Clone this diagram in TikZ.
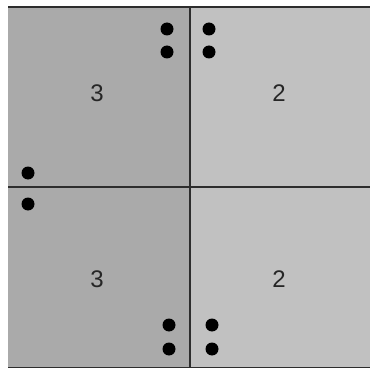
\documentclass[tikz,border=0pt]{standalone}
\usepackage{fontspec}
\setmainfont{Liberation Sans}
\definecolor{darkcell}{RGB}{170,170,170}
\definecolor{lightcell}{RGB}{193,193,193}
\definecolor{gridline}{RGB}{45,45,45}
\begin{document}
\begin{tikzpicture}[
    x=1pt, y=-1pt,
    cell/.style={fill=#1, draw=none},
    divider/.style={draw=gridline, line width=1.6pt},
    dot/.style={circle, fill=black, inner sep=0pt, minimum size=13pt},
    count/.style={font=\fontsize{24}{28}\selectfont, text=black!85}
  ]
    \useasboundingbox (0,0) rectangle (370,369);

    % Cells
    \path[cell=darkcell] (8,7) rectangle (190,368);
    \path[cell=lightcell] (190,7) rectangle (370,368);

    % Grid
    \draw[divider] (8,7) -- (370,7);
    \draw[divider] (8,367.5) -- (370,367.5);
    \draw[divider] (190,7) -- (190,368);
    \draw[divider] (8,187) -- (370,187);

    % Labels
    \node[count] (tl) at (97,93) {3};
    \node[count] (tr) at (279,93) {2};
    \node[count] (bl) at (97,279) {3};
    \node[count] (br) at (279,279) {2};

    % Dots
    \node[dot] (d1) at (167,29) {};
    \node[dot] (d2) at (167,52) {};
    \node[dot] (d3) at (209,29) {};
    \node[dot] (d4) at (209,52) {};
    \node[dot] (d5) at (28,173) {};
    \node[dot] (d6) at (28,204) {};
    \node[dot] (d7) at (169,325) {};
    \node[dot] (d8) at (169,349) {};
    \node[dot] (d9) at (212,325) {};
    \node[dot] (d10) at (212,349) {};
  \end{tikzpicture}
\end{document}
